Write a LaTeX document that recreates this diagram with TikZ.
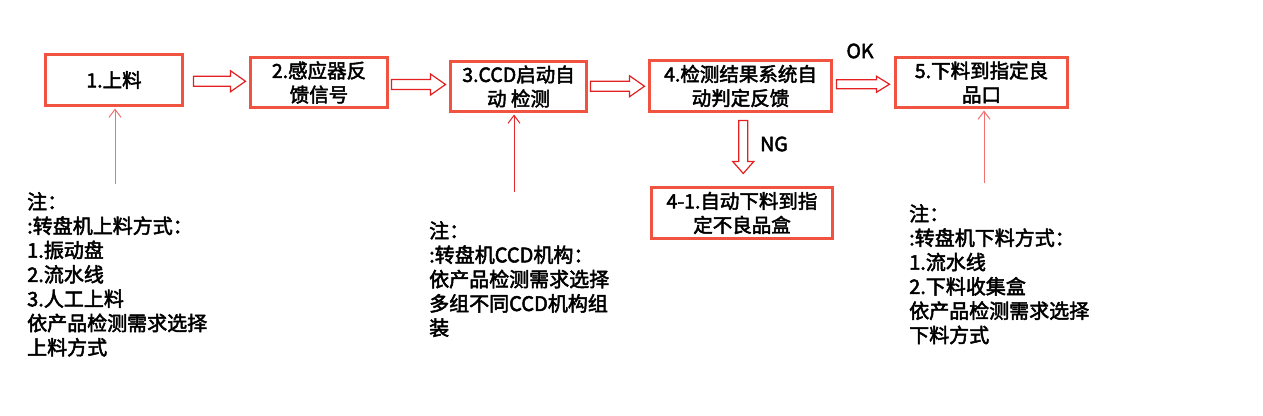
\documentclass[tikz,border=0pt]{standalone}
\usepackage{fontspec}
\setmainfont{Noto Sans CJK SC}[FakeBold=2.5]
\usetikzlibrary{calc,arrows.meta}
\definecolor{boxred}{RGB}{240,84,64}
\definecolor{arrowred}{RGB}{228,32,32}
\definecolor{linered}{RGB}{242,112,112}
\definecolor{darkline}{RGB}{226,40,40}

% hollow block arrow from the east side of #2 to the west side of #3
\newcommand{\harrow}[3][3]{%
  \draw[hollow] let \p1=(#2.east), \p2=(#3.west), \p3=($(#2.east)!.5!(#3.west)$) in
    (\x1+#1pt,\y3+5pt) -- (\x2-18.5pt,\y3+5pt) -- (\x2-18.5pt,\y3+10.5pt) -- (\x2-3.5pt,\y3)
    -- (\x2-18.5pt,\y3-10.5pt) -- (\x2-18.5pt,\y3-5pt) -- (\x1+#1pt,\y3-5pt) -- cycle;}

\begin{document}
\begin{tikzpicture}[x=1pt,y=-1pt,
  stepbox/.style={draw=boxred, line width=3pt, inner sep=0pt, align=center,
    font=\fontsize{19.5}{24}\selectfont},
  hollow/.style={draw=arrowred, line width=1.2pt, fill=white, line join=miter},
  upline/.style={line width=1pt, -{Straight Barb[length=8pt,width=12pt]}, shorten >=1.5pt},
  note/.style={anchor=north west, inner sep=0pt, align=left,
    font=\fontsize{20}{24.3}\selectfont}]
\useasboundingbox (0,0) rectangle (1263,415);

% Draw the boxes
\node[stepbox, minimum width=137pt, minimum height=51pt] (b1) at (114,80) {1.上料};
\node[stepbox, minimum width=137pt, minimum height=50pt] (b2) at (319,82.5) {2.感应器反\\馈信号};
\node[stepbox, minimum width=136pt, minimum height=50pt] (b3) at (518.5,86.5) {3.CCD启动自\\动 检测};
\node[stepbox, minimum width=182pt, minimum height=51pt] (b4) at (740.5,86) {4.检测结果系统自\\动判定反馈};
\node[stepbox, minimum width=172pt, minimum height=50pt] (b5) at (981.5,82.5) {5.下料到指定良\\品口};
\node[stepbox, minimum width=181pt, minimum height=51pt] (b41) at (742,213) {4-1.自动下料到指\\定不良品盒};

% Draw the block arrows
\harrow[9.5]{b1}{b2}
\harrow[2.5]{b2}{b3}
\harrow[2.5]{b3}{b4}
\draw[hollow] let \p1=(b4.east), \p2=(b5.west), \p3=($(b4.east)!.5!(b5.west)$) in
  (\x1+3.5pt,\y3+4.5pt) -- (\x2-17.5pt,\y3+4.5pt) -- (\x2-17.5pt,\y3+8pt) -- (\x2-4.5pt,\y3)
  -- (\x2-17.5pt,\y3-8pt) -- (\x2-17.5pt,\y3-4.5pt) -- (\x1+3.5pt,\y3-4.5pt) -- cycle;
\draw[hollow] let \p1=(b4.south), \p2=(b41.north), \p3=($(b4.south)!.5!(b41.north)$) in
  (\x3-2.5pt,\y1-7.5pt) -- (\x3+6.5pt,\y1-7.5pt) -- (\x3+6.5pt,\y2+24.5pt) -- (\x3+12.5pt,\y2+24.5pt)
  -- (\x3+2pt,\y2+12.5pt) -- (\x3-8.5pt,\y2+24.5pt) -- (\x3-2.5pt,\y2+24.5pt) -- cycle;
\node[font=\fontsize{19.5}{24}\selectfont] (ok) at (860,51) {OK};
\node[font=\fontsize{19.5}{24}\selectfont] (ng) at (774,144) {NG};

% Draw the notes and their pointers
\coordinate (u1) at (115,184);
\coordinate (u3) at (514,192);
\coordinate (u5) at (984,183);
\draw[upline, linered] (u1) -- (u1 |- b1.south);
\draw[upline, darkline] (u3) -- (u3 |- b3.south);
\draw[upline, linered] (u5) -- (u5 |- b5.south);
\node[note] (n1) at (27,192) {注：\\:转盘机上料方式：\\1.振动盘\\2.流水线\\3.人工上料\\依产品检测需求选择\\上料方式};
\node[note] (n3) at (429,221) {注：\\:转盘机CCD机构：\\依产品检测需求选择\\多组不同CCD机构组\\装};
\node[note] (n5) at (909,204) {注：\\:转盘机下料方式：\\1.流水线\\2.下料收集盒\\依产品检测需求选择\\下料方式};
\end{tikzpicture}
\end{document}
